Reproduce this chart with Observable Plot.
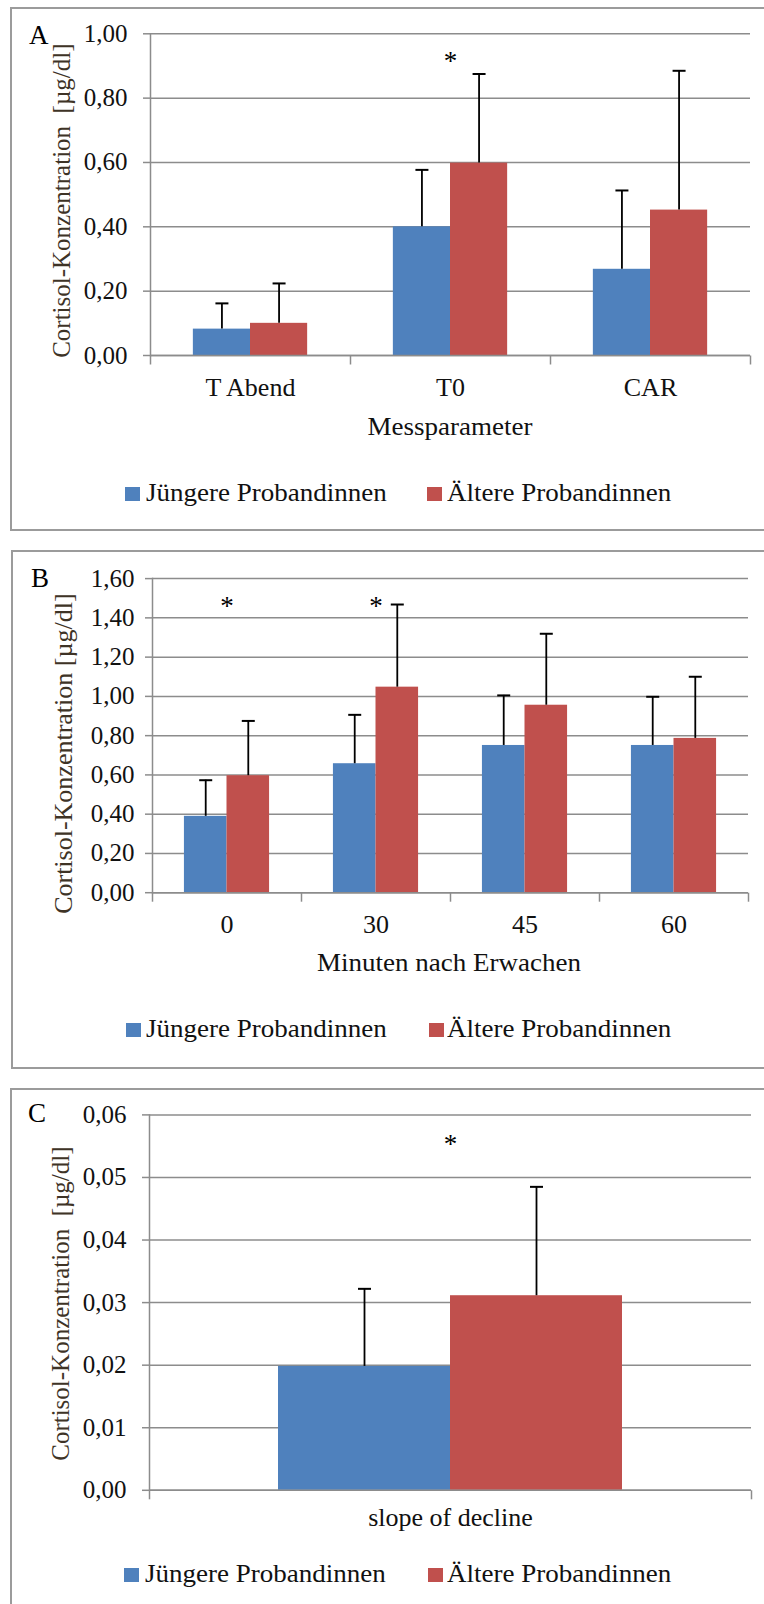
<!DOCTYPE html>
<html>
<head>
<meta charset="utf-8">
<script src="https://cdn.jsdelivr.net/npm/d3@7"></script>
<script src="https://cdn.jsdelivr.net/npm/@observablehq/plot@0.6"></script>
<style>
  html, body { margin: 0; padding: 0; background: #fff; }
  #root { position: relative; width: 764px; height: 1604px; overflow: hidden; background: #fff; }
  .box { position: absolute; border: 2px solid #9b9b9b; box-sizing: border-box; }
</style>
</head>
<body>
<div id="root"></div>
<script>
// ---------- DATA ----------
const series = ["Jüngere Probandinnen", "Ältere Probandinnen"];
const seriesColors = ["#4F81BD", "#C0504D"];

// Panel A
const catsA = ["T Abend", "T0", "CAR"];
const youngA = [0.082, 0.400, 0.268];
const youngSdA = [0.080, 0.177, 0.245];
const olderA = [0.100, 0.598, 0.452];
const olderSdA = [0.124, 0.277, 0.433];
const yTicksA = [0, 0.2, 0.4, 0.6, 0.8, 1.0];
const starsA = ["T0"];
const starYA = [0.915];
const xTitleA = "Messparameter";
const yTitleA = "Cortisol-Konzentration  [µg/dl]";

// Panel B
const catsB = ["0", "30", "45", "60"];
const youngB = [0.389, 0.657, 0.750, 0.750];
const youngSdB = [0.184, 0.249, 0.255, 0.248];
const olderB = [0.596, 1.047, 0.955, 0.786];
const olderSdB = [0.279, 0.421, 0.364, 0.314];
const yTicksB = [0, 0.2, 0.4, 0.6, 0.8, 1.0, 1.2, 1.4, 1.6];
const starsB = ["0", "30"];
const starYB = [1.46, 1.46];
const xTitleB = "Minuten nach Erwachen";
const yTitleB = "Cortisol-Konzentration [µg/dl]";

// Panel C
const catsC = ["slope of decline"];
const youngC = [0.0198];
const youngSdC = [0.0124];
const olderC = [0.0311];
const olderSdC = [0.0174];
const yTicksC = [0, 0.01, 0.02, 0.03, 0.04, 0.05, 0.06];
const starsC = ["slope of decline"];
const starYC = [0.0553];
const yTitleC = "Cortisol-Konzentration  [µg/dl]";

// ---------- STYLE / LAYOUT ----------
const fontFamily = "'Liberation Serif', 'Times New Roman', Times, serif";
const gridColor = "#8c8c8c";
const textColor = "#111";
const titleColor = "#3e3326";
const fmt = d => d.toFixed(2).replace(".", ",");

const capSymbol = { draw(ctx) { ctx.moveTo(-6.5, 0); ctx.lineTo(6.5, 0); } };
const tickDown = { draw(ctx) { ctx.moveTo(0, 0); ctx.lineTo(0, 9); } };

const root = document.getElementById("root");

function box(left, top, height) {
  const d = document.createElement("div");
  d.className = "box";
  Object.assign(d.style, { left: left + "px", top: top + "px", width: "800px", height: height + "px" });
  root.appendChild(d);
}

function htmlText(txt, { x, center, baseline, size = 25, color = textColor, stretch = 1.08 }) {
  const d = document.createElement("div");
  d.textContent = txt;
  Object.assign(d.style, {
    position: "absolute", fontFamily, fontSize: size + "px", lineHeight: size + "px",
    whiteSpace: "nowrap", color, top: (baseline - 0.8375 * size) + "px",
    transform: `scaleX(${stretch})`
  });
  if (center != null) {
    Object.assign(d.style, { left: (center - 400) + "px", width: "800px", textAlign: "center", transformOrigin: "50% 50%" });
  } else {
    Object.assign(d.style, { left: x + "px", transformOrigin: "0 50%" });
  }
  root.appendChild(d);
}

function legend({ baseline, sqX, textX }) {
  series.forEach((s, i) => {
    const sq = document.createElement("div");
    Object.assign(sq.style, {
      position: "absolute", left: sqX[i] + "px", top: (baseline - 14.5) + "px",
      width: "14.5px", height: "14.5px", background: seriesColors[i]
    });
    root.appendChild(sq);
    htmlText(s, { x: textX[i], baseline });
  });
}

function panel(p) {
  const rows = p.cats.flatMap((c, i) => [
    { cat: c, group: series[0], value: p.young[i], sd: p.youngSd[i] },
    { cat: c, group: series[1], value: p.older[i], sd: p.olderSd[i] }
  ]);
  const stars = p.stars.map((c, i) => ({ cat: c, y: p.starY[i] }));
  const last = p.cats[p.cats.length - 1];
  const svg = Plot.plot({
    width: 764,
    height: p.height,
    marginTop: p.marginTop,
    marginBottom: p.marginBottom,
    marginLeft: p.marginLeft,
    marginRight: p.marginRight,
    style: { fontFamily, fontSize: "26px", color: textColor, background: "none", overflow: "visible" },
    fx: { domain: p.cats, padding: 0, label: null },
    x: { domain: series, paddingInner: 0, paddingOuter: 0.75, round: false, axis: null },
    y: { domain: p.yDomain, axis: null },
    color: { domain: series, range: seriesColors },
    marks: [
      Plot.gridY(p.yTicks, { stroke: gridColor, strokeOpacity: 1, strokeWidth: 1.5 }),
      Plot.barY(rows, { fx: "cat", x: "group", y: "value", fill: "group" }),
      Plot.ruleY([0], { stroke: gridColor, strokeWidth: 1.5 }),
      Plot.frame({ anchor: "left", facetAnchor: "left", stroke: gridColor, strokeWidth: 1.5 }),
      Plot.dot(p.cats, { fx: d => d, frameAnchor: "bottom-left", symbol: tickDown, stroke: gridColor, strokeWidth: 1.5, fill: "none" }),
      Plot.dot([last], { fx: d => d, frameAnchor: "bottom-right", symbol: tickDown, stroke: gridColor, strokeWidth: 1.5, fill: "none" }),
      Plot.axisY(p.yTicks, { tickSize: 7, tickPadding: p.tickPad, tickFormat: fmt, stroke: gridColor, strokeWidth: 1.5, fill: textColor, fontSize: 25, label: null }),
      Plot.axisFx({ anchor: "bottom", tickSize: 0, tickPadding: p.catPad, label: null, fill: textColor, fontSize: 26 }),
      Plot.ruleX(rows, { fx: "cat", x: "group", y1: "value", y2: d => d.value + d.sd, stroke: "#000", strokeWidth: 1.8 }),
      Plot.dot(rows, { fx: "cat", x: "group", y: d => d.value + d.sd, symbol: capSymbol, stroke: "#000", strokeWidth: 2, fill: "none" }),
      Plot.text(stars, { fx: "cat", y: "y", text: () => "*", fontSize: 27, fill: "#000", lineAnchor: "middle" }),
      Plot.text([p.cats[0]], {
        fx: d => d, frameAnchor: "left", text: () => p.yTitle, rotate: -90,
        textAnchor: "middle", lineAnchor: "middle",
        dx: p.titleX - p.marginLeft, dy: p.titleDy, fill: titleColor, fontSize: p.titleSize
      })
    ]
  });
  svg.style.position = "absolute";
  svg.style.left = "0px";
  svg.style.top = p.top + "px";
  root.appendChild(svg);
}

// ---------- BUILD ----------
box(10, 7, 524);
box(11, 550, 519);
box(10, 1088, 600);

panel({
  cats: catsA, young: youngA, youngSd: youngSdA, older: olderA, olderSd: olderSdA,
  yTicks: yTicksA, yDomain: [0, 1.0], stars: starsA, starY: starYA, yTitle: yTitleA,
  top: 0, height: 420, marginTop: 33.3, marginBottom: 65, marginLeft: 149, marginRight: 13,
  tickPad: 16, catPad: 22.5, titleX: 60, titleDy: 6, titleSize: 25
});
panel({
  cats: catsB, young: youngB, youngSd: youngSdB, older: olderB, olderSd: olderSdB,
  yTicks: yTicksB, yDomain: [0, 1.6], stars: starsB, starY: starYB, yTitle: yTitleB,
  top: 540, height: 420, marginTop: 38.1, marginBottom: 67.8, marginLeft: 150, marginRight: 15,
  tickPad: 11, catPad: 22.3, titleX: 61, titleDy: 18, titleSize: 26
});
panel({
  cats: catsC, young: youngC, youngSd: youngSdC, older: olderC, olderSd: olderSdC,
  yTicks: yTicksC, yDomain: [0, 0.06], stars: starsC, starY: starYC, yTitle: yTitleC,
  top: 1080, height: 480, marginTop: 34.4, marginBottom: 70.2, marginLeft: 149, marginRight: 13,
  tickPad: 16, catPad: 17.7, titleX: 60, titleDy: 1, titleSize: 25
});

// panel letters
htmlText("A", { x: 29, baseline: 44.5, size: 27, color: "#000", stretch: 1 });
htmlText("B", { x: 31, baseline: 588, size: 27, color: "#000", stretch: 1 });
htmlText("C", { x: 28, baseline: 1123, size: 27, color: "#000", stretch: 1 });

// x-axis titles
htmlText(xTitleA, { center: 450, baseline: 435 });
htmlText(xTitleB, { center: 449, baseline: 970.5 });

// legends
legend({ baseline: 501, sqX: [125, 427], textX: [146, 447] });
legend({ baseline: 1037, sqX: [126, 429], textX: [146, 447] });
legend({ baseline: 1582, sqX: [124, 428], textX: [145, 447] });
</script>
</body>
</html>
